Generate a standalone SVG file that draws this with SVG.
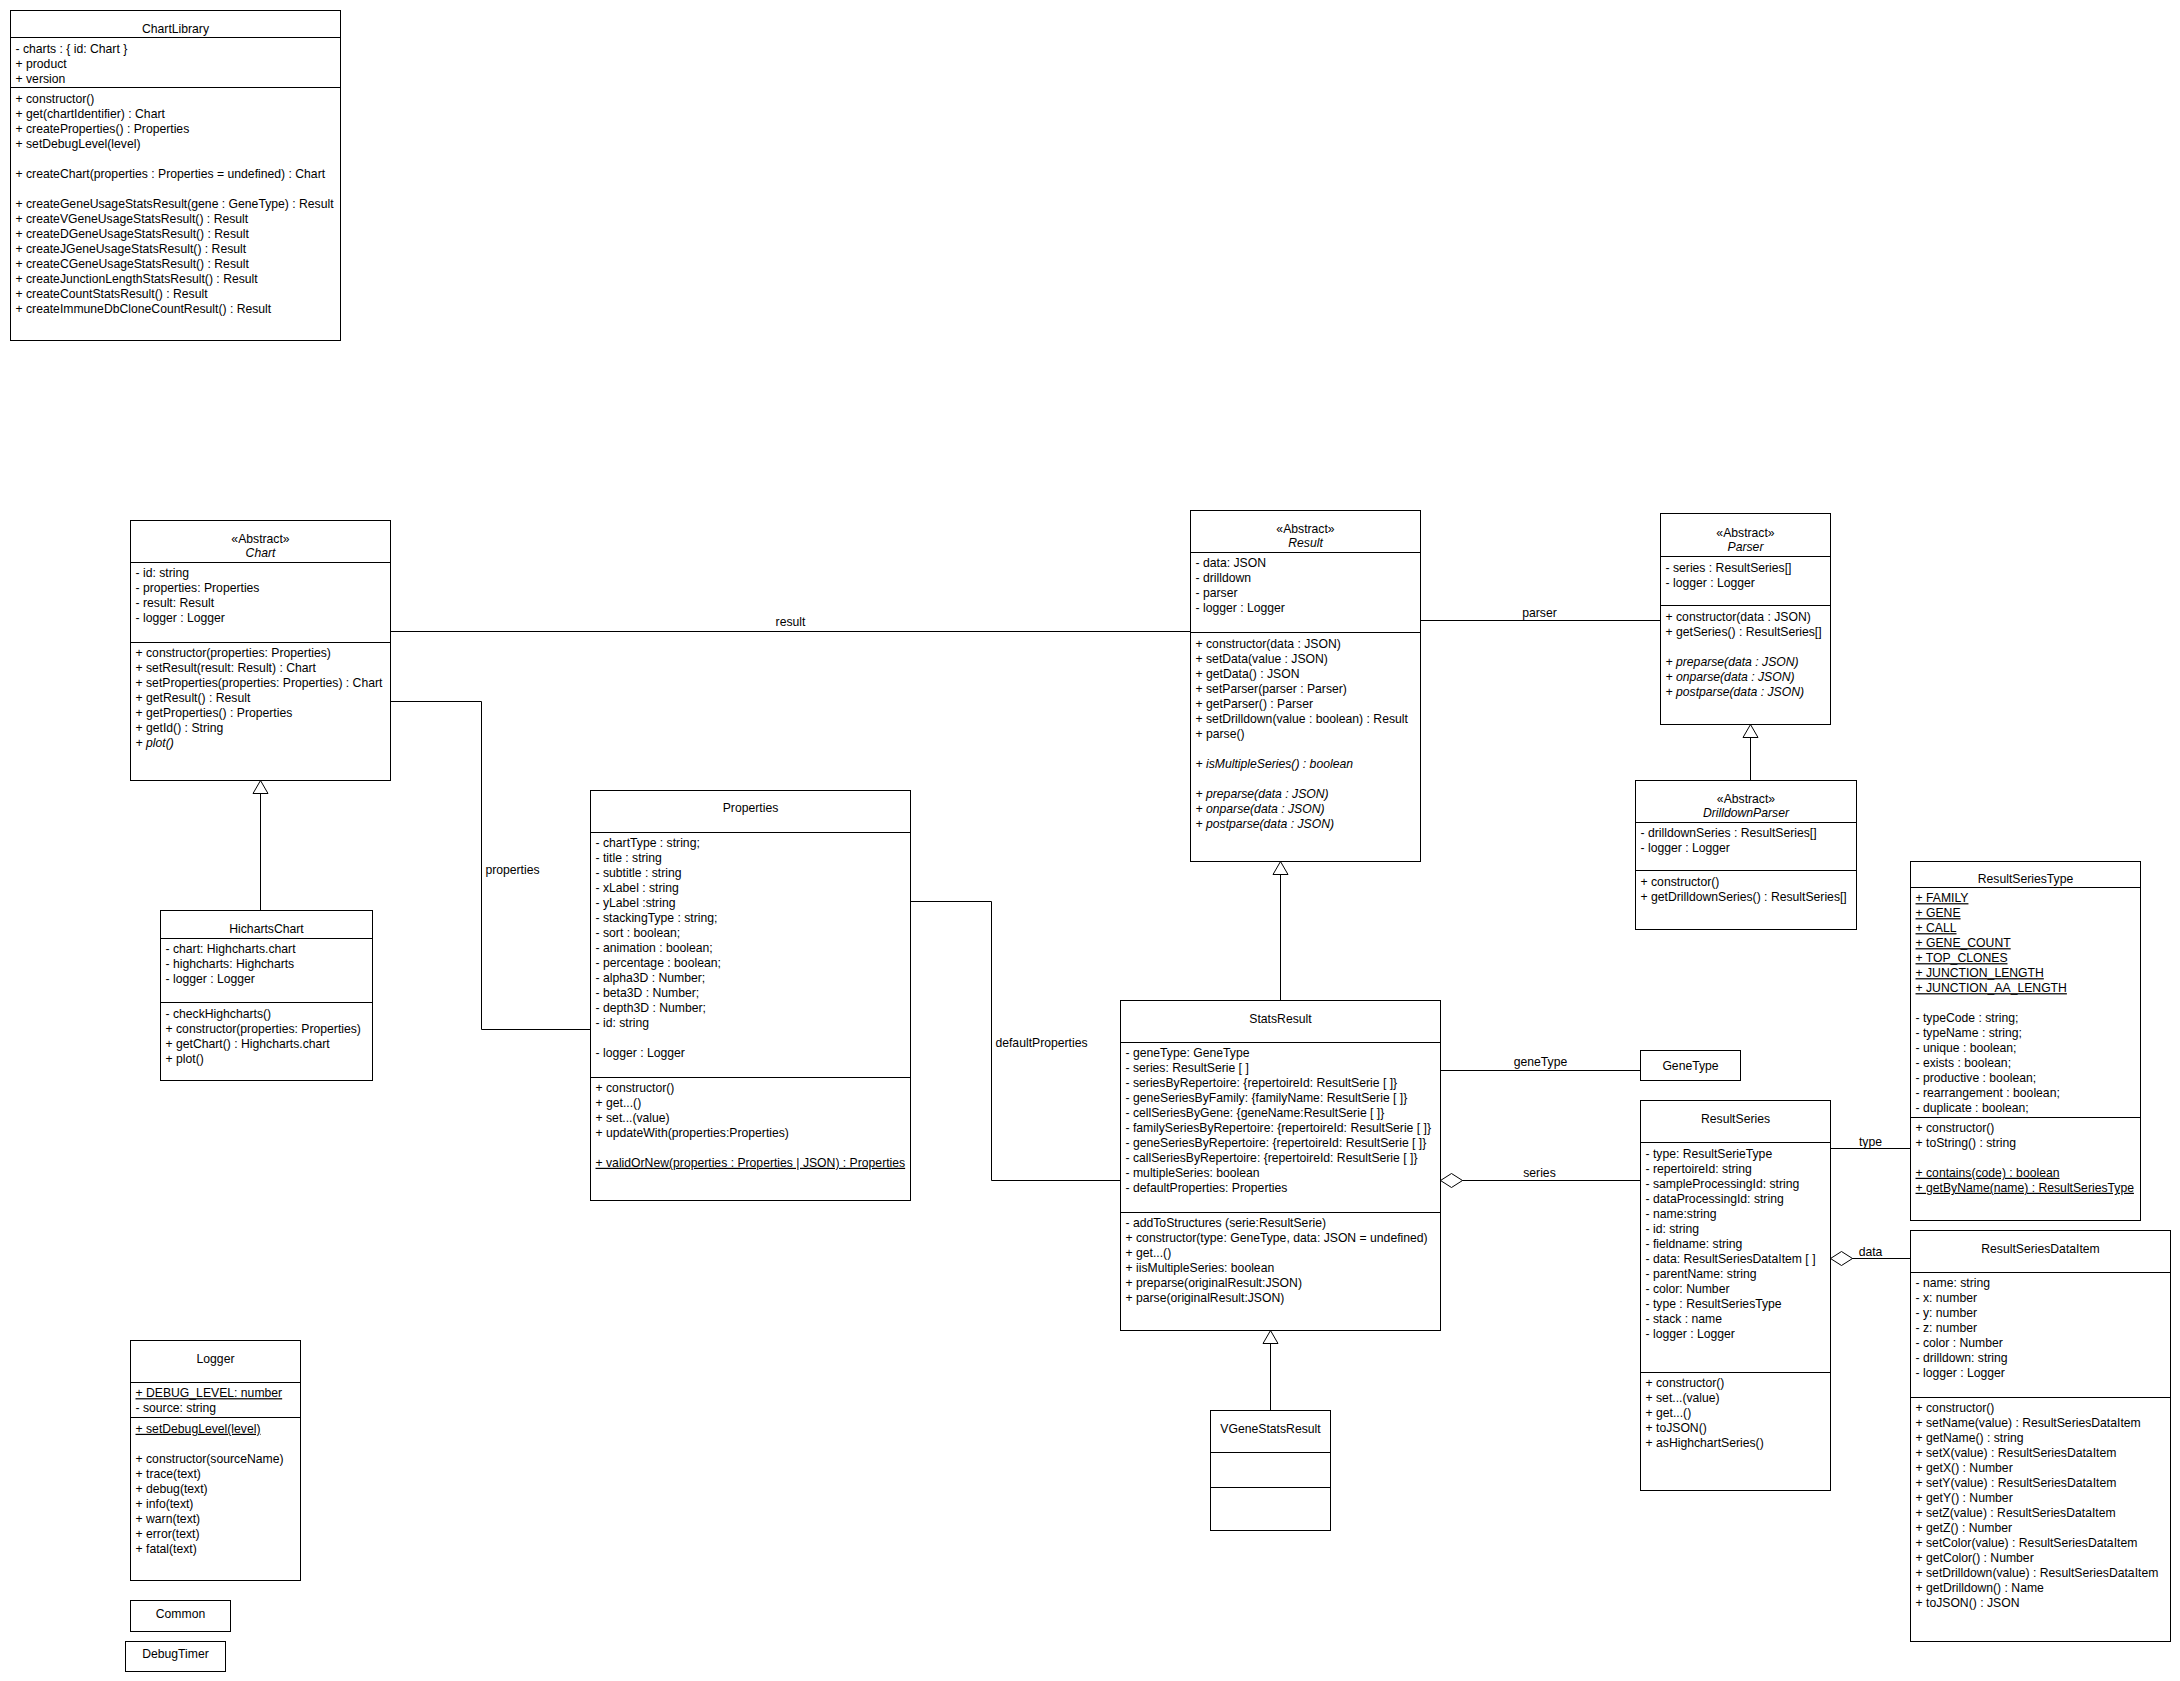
<svg xmlns="http://www.w3.org/2000/svg" width="2180" height="1681" viewBox="0 0 2180 1681">
<style>
.b{fill:#fff;stroke:#000;stroke-width:1}
.l{fill:none;stroke:#000;stroke-width:1}
text{font-family:"Liberation Sans",Arial,Helvetica,sans-serif;font-size:12.2px;fill:#000}
.c{text-anchor:middle}
.i{font-style:italic}
.u{text-decoration:underline}
</style>
<defs>
<marker id="tri" viewBox="-1 -9 15 18" refX="13" refY="0" markerWidth="15" markerHeight="18" markerUnits="userSpaceOnUse" orient="auto"><path d="M0,-7.5L13,0L0,7.5Z" fill="#fff" stroke="#000"/></marker>
<marker id="dia" viewBox="-1 -8 24 16" refX="0" refY="0" markerWidth="24" markerHeight="16" markerUnits="userSpaceOnUse" orient="auto"><path d="M0,0L11,-7L22,0L11,7Z" fill="#fff" stroke="#000"/></marker>
</defs>
<rect width="2180" height="1681" fill="#fff"/>
<g transform="translate(0.5,0.5)">
<g id="connectors">
<path class="l" d="M390,631H1190"/>
<text class="c" x="790" y="625">result</text>
<path class="l" d="M390,701H481V1029H590"/>
<text class="c" x="512" y="873">properties</text>
<path class="l" d="M910,901H991V1180H1120"/>
<text class="c" x="1041" y="1046.5">defaultProperties</text>
<path class="l" d="M1420,620H1660"/>
<text class="c" x="1539" y="616">parser</text>
<path class="l" d="M1280,1000V861" marker-end="url(#tri)"/>
<path class="l" d="M1270,1410V1330" marker-end="url(#tri)"/>
<path class="l" d="M260,910V780" marker-end="url(#tri)"/>
<path class="l" d="M1750,780V724" marker-end="url(#tri)"/>
<path class="l" d="M1440,1070H1640"/>
<text class="c" x="1540" y="1065">geneType</text>
<path class="l" d="M1440,1180H1640" marker-start="url(#dia)"/>
<text class="c" x="1539" y="1176">series</text>
<path class="l" d="M1830,1148H1910"/>
<text class="c" x="1870" y="1145.5">type</text>
<path class="l" d="M1830,1258H1910" marker-start="url(#dia)"/>
<text class="c" x="1870" y="1255.5">data</text>
</g>

<g id="ChartLibrary">
<rect class="b" x="10" y="10" width="330" height="330"/>
<path class="l" d="M10,37H340M10,87H340"/>
<text class="c" x="175" y="32">ChartLibrary</text>
<text x="15" y="52">- charts : { id: Chart }</text>
<text x="15" y="67">+ product</text>
<text x="15" y="82">+ version</text>
<text x="15" y="102">+ constructor()</text>
<text x="15" y="117">+ get(chartIdentifier) : Chart</text>
<text x="15" y="132">+ createProperties() : Properties</text>
<text x="15" y="147">+ setDebugLevel(level)</text>
<text x="15" y="177">+ createChart(properties : Properties = undefined) : Chart</text>
<text x="15" y="207">+ createGeneUsageStatsResult(gene : GeneType) : Result</text>
<text x="15" y="222">+ createVGeneUsageStatsResult() : Result</text>
<text x="15" y="237">+ createDGeneUsageStatsResult() : Result</text>
<text x="15" y="252">+ createJGeneUsageStatsResult() : Result</text>
<text x="15" y="267">+ createCGeneUsageStatsResult() : Result</text>
<text x="15" y="282">+ createJunctionLengthStatsResult() : Result</text>
<text x="15" y="297">+ createCountStatsResult() : Result</text>
<text x="15" y="312">+ createImmuneDbCloneCountResult() : Result</text>
</g>

<g id="Chart">
<rect class="b" x="130" y="520" width="260" height="260"/>
<path class="l" d="M130,562H390M130,642H390"/>
<text class="c" x="260" y="542.5">«Abstract»</text>
<text class="c i" x="260" y="556.5">Chart</text>
<text x="135" y="576.5">- id: string</text>
<text x="135" y="591.5">- properties: Properties</text>
<text x="135" y="606.5">- result: Result</text>
<text x="135" y="621.5">- logger : Logger</text>
<text x="135" y="656.5">+ constructor(properties: Properties)</text>
<text x="135" y="671.5">+ setResult(result: Result) : Chart</text>
<text x="135" y="686.5">+ setProperties(properties: Properties) : Chart</text>
<text x="135" y="701.5">+ getResult() : Result</text>
<text x="135" y="716.5">+ getProperties() : Properties</text>
<text x="135" y="731.5">+ getId() : String</text>
<text class="i" x="135" y="746.5">+ plot()</text>
</g>

<g id="HichartsChart">
<rect class="b" x="160" y="910" width="212" height="170"/>
<path class="l" d="M160,938H372M160,1002H372"/>
<text class="c" x="266" y="932">HichartsChart</text>
<text x="165" y="952">- chart: Highcharts.chart</text>
<text x="165" y="967">- highcharts: Highcharts</text>
<text x="165" y="982">- logger : Logger</text>
<text x="165" y="1017">- checkHighcharts()</text>
<text x="165" y="1032">+ constructor(properties: Properties)</text>
<text x="165" y="1047">+ getChart() : Highcharts.chart</text>
<text x="165" y="1062">+ plot()</text>
</g>

<g id="Properties">
<rect class="b" x="590" y="790" width="320" height="410"/>
<path class="l" d="M590,832H910M590,1077H910"/>
<text class="c" x="750" y="811.5">Properties</text>
<text x="595" y="846.3">- chartType : string;</text>
<text x="595" y="861.3">- title : string</text>
<text x="595" y="876.3">- subtitle : string</text>
<text x="595" y="891.3">- xLabel : string</text>
<text x="595" y="906.3">- yLabel :string</text>
<text x="595" y="921.3">- stackingType : string;</text>
<text x="595" y="936.3">- sort : boolean;</text>
<text x="595" y="951.3">- animation : boolean;</text>
<text x="595" y="966.3">- percentage : boolean;</text>
<text x="595" y="981.3">- alpha3D : Number;</text>
<text x="595" y="996.3">- beta3D : Number;</text>
<text x="595" y="1011.3">- depth3D : Number;</text>
<text x="595" y="1026.3">- id: string</text>
<text x="595" y="1056.3">- logger : Logger</text>
<text x="595" y="1091.3">+ constructor()</text>
<text x="595" y="1106.3">+ get...()</text>
<text x="595" y="1121.3">+ set...(value)</text>
<text x="595" y="1136.3">+ updateWith(properties:Properties)</text>
<text class="u" x="595" y="1166.3">+ validOrNew(properties : Properties | JSON) : Properties</text>
</g>

<g id="Result">
<rect class="b" x="1190" y="510" width="230" height="351"/>
<path class="l" d="M1190,552H1420M1190,632H1420"/>
<text class="c" x="1305" y="532.5">«Abstract»</text>
<text class="c i" x="1305" y="546.5">Result</text>
<text x="1195" y="566.5">- data: JSON</text>
<text x="1195" y="581.5">- drilldown</text>
<text x="1195" y="596.5">- parser</text>
<text x="1195" y="611.5">- logger : Logger</text>
<text x="1195" y="647">+ constructor(data : JSON)</text>
<text x="1195" y="662">+ setData(value : JSON)</text>
<text x="1195" y="677">+ getData() : JSON</text>
<text x="1195" y="692">+ setParser(parser : Parser)</text>
<text x="1195" y="707">+ getParser() : Parser</text>
<text x="1195" y="722">+ setDrilldown(value : boolean) : Result</text>
<text x="1195" y="737">+ parse()</text>
<text class="i" x="1195" y="767">+ isMultipleSeries() : boolean</text>
<text class="i" x="1195" y="797">+ preparse(data : JSON)</text>
<text class="i" x="1195" y="812">+ onparse(data : JSON)</text>
<text class="i" x="1195" y="827">+ postparse(data : JSON)</text>
</g>

<g id="Parser">
<rect class="b" x="1660" y="513" width="170" height="211"/>
<path class="l" d="M1660,556H1830M1660,605H1830"/>
<text class="c" x="1745" y="536">«Abstract»</text>
<text class="c i" x="1745" y="550">Parser</text>
<text x="1665" y="571">- series : ResultSeries[]</text>
<text x="1665" y="586">- logger : Logger</text>
<text x="1665" y="620">+ constructor(data : JSON)</text>
<text x="1665" y="635">+ getSeries() : ResultSeries[]</text>
<text class="i" x="1665" y="665">+ preparse(data : JSON)</text>
<text class="i" x="1665" y="680">+ onparse(data : JSON)</text>
<text class="i" x="1665" y="695">+ postparse(data : JSON)</text>
</g>

<g id="DrilldownParser">
<rect class="b" x="1635" y="780" width="221" height="149"/>
<path class="l" d="M1635,822H1856M1635,870H1856"/>
<text class="c" x="1745.5" y="802">«Abstract»</text>
<text class="c i" x="1745.5" y="816">DrilldownParser</text>
<text x="1640" y="836.5">- drilldownSeries : ResultSeries[]</text>
<text x="1640" y="851.5">- logger : Logger</text>
<text x="1640" y="885">+ constructor()</text>
<text x="1640" y="900">+ getDrilldownSeries() : ResultSeries[]</text>
</g>

<g id="StatsResult">
<rect class="b" x="1120" y="1000" width="320" height="330"/>
<path class="l" d="M1120,1042H1440M1120,1212H1440"/>
<text class="c" x="1280" y="1022.3">StatsResult</text>
<text x="1125" y="1056.3">- geneType: GeneType</text>
<text x="1125" y="1071.3">- series: ResultSerie [ ]</text>
<text x="1125" y="1086.3">- seriesByRepertoire: {repertoireId: ResultSerie [ ]}</text>
<text x="1125" y="1101.3">- geneSeriesByFamily: {familyName: ResultSerie [ ]}</text>
<text x="1125" y="1116.3">- cellSeriesByGene: {geneName:ResultSerie [ ]}</text>
<text x="1125" y="1131.3">- familySeriesByRepertoire: {repertoireId: ResultSerie [ ]}</text>
<text x="1125" y="1146.3">- geneSeriesByRepertoire: {repertoireId: ResultSerie [ ]}</text>
<text x="1125" y="1161.3">- callSeriesByRepertoire: {repertoireId: ResultSerie [ ]}</text>
<text x="1125" y="1176.3">- multipleSeries: boolean</text>
<text x="1125" y="1191.3">- defaultProperties: Properties</text>
<text x="1125" y="1226.3">- addToStructures (serie:ResultSerie)</text>
<text x="1125" y="1241.3">+ constructor(type: GeneType, data: JSON = undefined)</text>
<text x="1125" y="1256.3">+ get...()</text>
<text x="1125" y="1271.3">+ iisMultipleSeries: boolean</text>
<text x="1125" y="1286.3">+ preparse(originalResult:JSON)</text>
<text x="1125" y="1301.3">+ parse(originalResult:JSON)</text>
</g>

<g id="VGeneStatsResult">
<rect class="b" x="1210" y="1410" width="120" height="120"/>
<path class="l" d="M1210,1452H1330M1210,1487H1330"/>
<text class="c" x="1270" y="1432.3">VGeneStatsResult</text>
</g>

<g id="GeneType">
<rect class="b" x="1640" y="1050" width="100" height="30"/>
<text class="c" x="1690" y="1069">GeneType</text>
</g>

<g id="ResultSeries">
<rect class="b" x="1640" y="1100" width="190" height="390"/>
<path class="l" d="M1640,1142H1830M1640,1372H1830"/>
<text class="c" x="1735" y="1122.3">ResultSeries</text>
<text x="1645" y="1157.3">- type: ResultSerieType</text>
<text x="1645" y="1172.3">- repertoireId: string</text>
<text x="1645" y="1187.3">- sampleProcessingId: string</text>
<text x="1645" y="1202.3">- dataProcessingId: string</text>
<text x="1645" y="1217.3">- name:string</text>
<text x="1645" y="1232.3">- id: string</text>
<text x="1645" y="1247.3">- fieldname: string</text>
<text x="1645" y="1262.3">- data: ResultSeriesDataItem [ ]</text>
<text x="1645" y="1277.3">- parentName: string</text>
<text x="1645" y="1292.3">- color: Number</text>
<text x="1645" y="1307.3">- type : ResultSeriesType</text>
<text x="1645" y="1322.3">- stack : name</text>
<text x="1645" y="1337.3">- logger : Logger</text>
<text x="1645" y="1386.3">+ constructor()</text>
<text x="1645" y="1401.3">+ set...(value)</text>
<text x="1645" y="1416.3">+ get...()</text>
<text x="1645" y="1431.3">+ toJSON()</text>
<text x="1645" y="1446.3">+ asHighchartSeries()</text>
</g>

<g id="ResultSeriesType">
<rect class="b" x="1910" y="861" width="230" height="359"/>
<path class="l" d="M1910,887H2140M1910,1117H2140"/>
<text class="c" x="2025" y="882.3">ResultSeriesType</text>
<text class="u" x="1915" y="901.7">+ FAMILY</text>
<text class="u" x="1915" y="916.7">+ GENE</text>
<text class="u" x="1915" y="931.7">+ CALL</text>
<text class="u" x="1915" y="946.7">+ GENE_COUNT</text>
<text class="u" x="1915" y="961.7">+ TOP_CLONES</text>
<text class="u" x="1915" y="976.7">+ JUNCTION_LENGTH</text>
<text class="u" x="1915" y="991.7">+ JUNCTION_AA_LENGTH</text>
<text x="1915" y="1021.7">- typeCode : string;</text>
<text x="1915" y="1036.7">- typeName : string;</text>
<text x="1915" y="1051.7">- unique : boolean;</text>
<text x="1915" y="1066.7">- exists : boolean;</text>
<text x="1915" y="1081.7">- productive : boolean;</text>
<text x="1915" y="1096.7">- rearrangement : boolean;</text>
<text x="1915" y="1111.7">- duplicate : boolean;</text>
<text x="1915" y="1131.3">+ constructor()</text>
<text x="1915" y="1146.3">+ toString() : string</text>
<text class="u" x="1915" y="1176.3">+ contains(code) : boolean</text>
<text class="u" x="1915" y="1191.3">+ getByName(name) : ResultSeriesType</text>
</g>

<g id="ResultSeriesDataItem">
<rect class="b" x="1910" y="1230" width="260" height="411"/>
<path class="l" d="M1910,1272H2170M1910,1397H2170"/>
<text class="c" x="2040" y="1252.3">ResultSeriesDataItem</text>
<text x="1915" y="1286.3">- name: string</text>
<text x="1915" y="1301.3">- x: number</text>
<text x="1915" y="1316.3">- y: number</text>
<text x="1915" y="1331.3">- z: number</text>
<text x="1915" y="1346.3">- color : Number</text>
<text x="1915" y="1361.3">- drilldown: string</text>
<text x="1915" y="1376.3">- logger : Logger</text>
<text x="1915" y="1411.8">+ constructor()</text>
<text x="1915" y="1426.8">+ setName(value) : ResultSeriesDataItem</text>
<text x="1915" y="1441.8">+ getName() : string</text>
<text x="1915" y="1456.8">+ setX(value) : ResultSeriesDataItem</text>
<text x="1915" y="1471.8">+ getX() : Number</text>
<text x="1915" y="1486.8">+ setY(value) : ResultSeriesDataItem</text>
<text x="1915" y="1501.8">+ getY() : Number</text>
<text x="1915" y="1516.8">+ setZ(value) : ResultSeriesDataItem</text>
<text x="1915" y="1531.8">+ getZ() : Number</text>
<text x="1915" y="1546.8">+ setColor(value) : ResultSeriesDataItem</text>
<text x="1915" y="1561.8">+ getColor() : Number</text>
<text x="1915" y="1576.8">+ setDrilldown(value) : ResultSeriesDataItem</text>
<text x="1915" y="1591.8">+ getDrilldown() : Name</text>
<text x="1915" y="1606.8">+ toJSON() : JSON</text>
</g>

<g id="Logger">
<rect class="b" x="130" y="1340" width="170" height="240"/>
<path class="l" d="M130,1382H300M130,1417H300"/>
<text class="c" x="215" y="1362.3">Logger</text>
<text class="u" x="135" y="1396.7">+ DEBUG_LEVEL: number</text>
<text x="135" y="1411.7">- source: string</text>
<text class="u" x="135" y="1432.3">+ setDebugLevel(level)</text>
<text x="135" y="1462.3">+ constructor(sourceName)</text>
<text x="135" y="1477.3">+ trace(text)</text>
<text x="135" y="1492.3">+ debug(text)</text>
<text x="135" y="1507.3">+ info(text)</text>
<text x="135" y="1522.3">+ warn(text)</text>
<text x="135" y="1537.3">+ error(text)</text>
<text x="135" y="1552.3">+ fatal(text)</text>
</g>

<g id="Common">
<rect class="b" x="130" y="1600" width="100" height="31"/>
<text class="c" x="180" y="1617">Common</text>
</g>

<g id="DebugTimer">
<rect class="b" x="125" y="1641" width="100" height="30"/>
<text class="c" x="175" y="1657.5">DebugTimer</text>
</g>
</g>
</svg>
